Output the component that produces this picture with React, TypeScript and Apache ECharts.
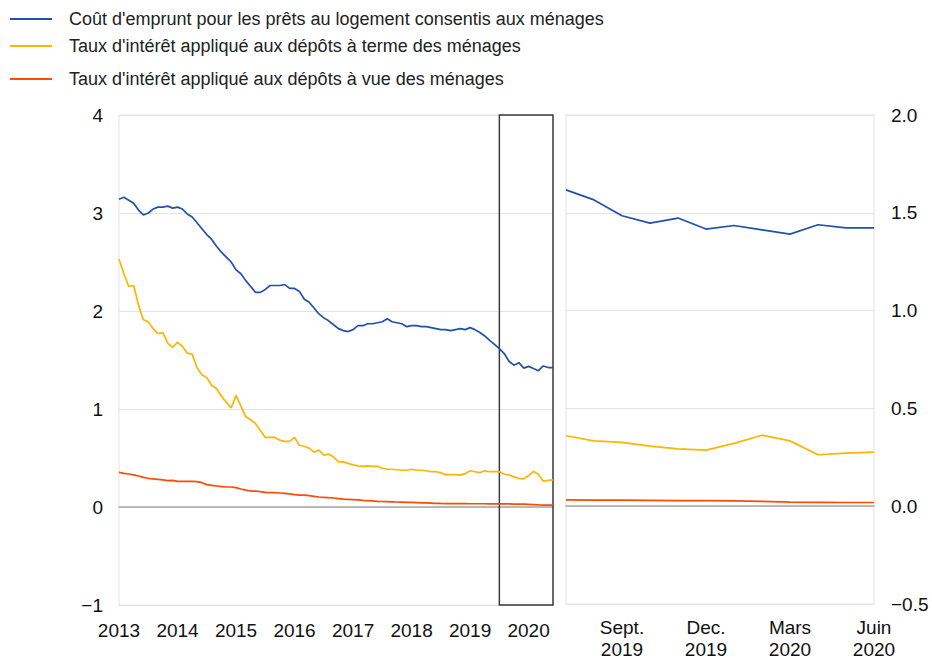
import React, { useEffect, useRef } from "react";
import * as echarts from "echarts";

const YEARS = ["2013", "2014", "2015", "2016", "2017", "2018", "2019", "2020"];
const MONTH_NUMS = ["01", "02", "03", "04", "05", "06", "07", "08", "09", "10", "11", "12"];
const months: string[] = [];
YEARS.forEach((y) => MONTH_NUMS.forEach((m) => months.push(y + "-" + m)));
months.splice(90); // Jan 2013 .. Jun 2020

const zoomCategories = [
  "Juil.\n2019", "Août\n2019", "Sept.\n2019", "Oct.\n2019", "Nov.\n2019", "Dec.\n2019",
  "Janv.\n2020", "Févr.\n2020", "Mars\n2020", "Avr.\n2020", "Mai\n2020", "Juin\n2020",
];

const leftTicks = [-1, 0, 1, 2, 3, 4];
const rightTicks = [-0.5, 0, 0.5, 1.0, 1.5, 2.0];

const NAME_LOANS = "Coût d'emprunt pour les prêts au logement consentis aux ménages";
const NAME_TERM = "Taux d'intérêt appliqué aux dépôts à terme des ménages";
const NAME_SIGHT = "Taux d'intérêt appliqué aux dépôts à vue des ménages";

const loans = [
  3.14, 3.16, 3.13, 3.10, 3.03, 2.98, 3.00, 3.04, 3.06, 3.06, 3.07, 3.05,
  3.06, 3.04, 2.99, 2.96, 2.90, 2.84, 2.78, 2.73, 2.66, 2.60, 2.55, 2.50,
  2.42, 2.38, 2.31, 2.25, 2.19, 2.19, 2.22, 2.26, 2.26, 2.26, 2.27, 2.23,
  2.23, 2.20, 2.12, 2.09, 2.03, 1.97, 1.93, 1.90, 1.86, 1.82, 1.80, 1.79,
  1.81, 1.85, 1.85, 1.87, 1.87, 1.88, 1.89, 1.92, 1.89, 1.88, 1.87, 1.84,
  1.85, 1.85, 1.84, 1.84, 1.83, 1.82, 1.81, 1.81, 1.80, 1.81, 1.82, 1.81,
  1.83, 1.81, 1.78, 1.745, 1.70, 1.66, 1.617, 1.566, 1.485, 1.447, 1.473, 1.417,
  1.435, 1.413, 1.391, 1.439, 1.423, 1.423,
];

const termDeposits = [
  2.53, 2.38, 2.25, 2.26, 2.06, 1.91, 1.89, 1.82, 1.77, 1.78, 1.67, 1.63,
  1.68, 1.64, 1.57, 1.56, 1.42, 1.35, 1.32, 1.24, 1.21, 1.13, 1.07, 1.01,
  1.14, 1.03, 0.92, 0.89, 0.85, 0.78, 0.71, 0.71, 0.71, 0.68, 0.67, 0.67,
  0.71, 0.63, 0.62, 0.60, 0.56, 0.58, 0.53, 0.54, 0.51, 0.46, 0.46, 0.445,
  0.43, 0.42, 0.415, 0.42, 0.415, 0.415, 0.395, 0.385, 0.385, 0.38, 0.375, 0.375,
  0.385, 0.375, 0.375, 0.37, 0.36, 0.36, 0.35, 0.33, 0.33, 0.33, 0.325, 0.34,
  0.37, 0.36, 0.35, 0.37, 0.36, 0.36, 0.36, 0.334, 0.326, 0.307, 0.293, 0.287,
  0.321, 0.363, 0.334, 0.263, 0.271, 0.276,
];

const sightDeposits = [
  0.354, 0.343, 0.337, 0.327, 0.316, 0.303, 0.293, 0.286, 0.282, 0.276, 0.269, 0.272,
  0.262, 0.262, 0.262, 0.262, 0.259, 0.248, 0.228, 0.221, 0.214, 0.207, 0.204, 0.204,
  0.197, 0.184, 0.173, 0.163, 0.163, 0.156, 0.15, 0.146, 0.146, 0.143, 0.139, 0.133,
  0.126, 0.122, 0.122, 0.116, 0.109, 0.102, 0.099, 0.095, 0.092, 0.086, 0.08, 0.078,
  0.075, 0.072, 0.068, 0.065, 0.062, 0.058, 0.056, 0.055, 0.053, 0.051, 0.05, 0.048,
  0.047, 0.045, 0.043, 0.042, 0.04, 0.038, 0.036, 0.035, 0.035, 0.034, 0.034, 0.034,
  0.033, 0.033, 0.033, 0.033, 0.032, 0.032, 0.032, 0.031, 0.031, 0.030, 0.029, 0.029,
  0.027, 0.025, 0.021, 0.02, 0.019, 0.019,
];

const ZOOM_START = 78; // July 2019

const BLUE = "#2150ae";
const YELLOW = "#ffb400";
const ORANGE = "#ff4b00";
const FONT = "Liberation Sans, Arial, sans-serif";
const GRID_COLOR = "#e3e3e3";

const minus = (s: string) => s.replace("-", "\u2212");

export default function App() {
  const ref = useRef<HTMLDivElement>(null);
  useEffect(() => {
    if (!ref.current) return;
    const chart = echarts.init(ref.current, undefined, { renderer: "svg" });
    const lineBase = (name: string, color: string, data: number[], axis: number) => ({
      name,
      type: "line",
      xAxisIndex: axis,
      yAxisIndex: axis,
      data,
      symbol: "none",
      showSymbol: false,
      lineStyle: { color, width: 1.7 },
      itemStyle: { color },
      z: 3,
    });
    const legendItem = (name: string, top: number) => ({
      data: [name],
      left: 10,
      top,
      padding: 0,
      icon: "rect",
      itemWidth: 42,
      itemHeight: 2,
      selectedMode: false,
      textStyle: { fontFamily: FONT, fontSize: 18, color: "#222", padding: [0, 0, 0, 12] },
    });
    const option: any = {
      animation: false,
      backgroundColor: "#fff",
      textStyle: { fontFamily: FONT },
      legend: [legendItem(NAME_LOANS, 10), legendItem(NAME_TERM, 37), legendItem(NAME_SIGHT, 70)],
      grid: [
        { left: 119, right: 379, top: 115, bottom: 55, show: true, borderColor: GRID_COLOR, borderWidth: 1 },
        { left: 566, right: 58, top: 115, bottom: 55, show: true, borderColor: GRID_COLOR, borderWidth: 1 },
      ],
      xAxis: [
        {
          type: "category",
          gridIndex: 0,
          data: months,
          boundaryGap: false,
          axisLine: { onZero: true, lineStyle: { color: "#a6a6a6", width: 1.5 } },
          axisTick: { show: false },
          axisLabel: {
            interval: (i: number) => i % 12 === 0,
            formatter: (v: string) => v.slice(0, 4),
            fontSize: 19,
            color: "#111",
            fontFamily: FONT,
            margin: 16,
          },
          splitLine: { show: false },
        },
        {
          type: "category",
          gridIndex: 1,
          data: zoomCategories,
          boundaryGap: false,
          axisLine: { onZero: true, lineStyle: { color: "#a6a6a6", width: 1.5 } },
          axisTick: { show: false },
          axisLabel: {
            interval: (i: number) => i % 3 === 2,
            fontSize: 19,
            lineHeight: 22,
            color: "#111",
            fontFamily: FONT,
            margin: 12,
          },
          splitLine: { show: false },
        },
      ],
      yAxis: [
        {
          type: "value",
          gridIndex: 0,
          min: leftTicks[0],
          max: leftTicks[leftTicks.length - 1],
          interval: 1,
          axisLine: { show: false },
          axisTick: { show: false },
          axisLabel: {
            formatter: (v: number) => minus(String(v)),
            fontSize: 19,
            color: "#111",
            fontFamily: FONT,
            margin: 16,
          },
          splitLine: { lineStyle: { color: GRID_COLOR, width: 1 } },
        },
        {
          type: "value",
          gridIndex: 1,
          position: "right",
          min: rightTicks[0],
          max: rightTicks[rightTicks.length - 1],
          interval: 0.5,
          axisLine: { show: false },
          axisTick: { show: false },
          axisLabel: {
            formatter: (v: number) => minus(v.toFixed(1)),
            fontSize: 19,
            color: "#111",
            fontFamily: FONT,
            margin: 17,
          },
          splitLine: { lineStyle: { color: GRID_COLOR, width: 1 } },
        },
      ],
      series: [
        {
          ...lineBase(NAME_LOANS, BLUE, loans, 0),
          markArea: {
            silent: true,
            itemStyle: { color: "rgba(0,0,0,0)", borderColor: "#3c3c3c", borderWidth: 1.5 },
            data: [[
              { xAxis: months[ZOOM_START], yAxis: leftTicks[leftTicks.length - 1] },
              { xAxis: months[months.length - 1], yAxis: leftTicks[0] },
            ]],
          },
        },
        lineBase(NAME_TERM, YELLOW, termDeposits, 0),
        lineBase(NAME_SIGHT, ORANGE, sightDeposits, 0),
        lineBase(NAME_LOANS, BLUE, loans.slice(ZOOM_START), 1),
        lineBase(NAME_TERM, YELLOW, termDeposits.slice(ZOOM_START), 1),
        lineBase(NAME_SIGHT, ORANGE, sightDeposits.slice(ZOOM_START), 1),
      ],
    };
    chart.setOption(option);
    return () => chart.dispose();
  }, []);
  return (
    <div
      ref={ref}
      style={{ position: "fixed", left: 0, top: 0, width: 932, height: 660, background: "#fff" }}
    />
  );
}
